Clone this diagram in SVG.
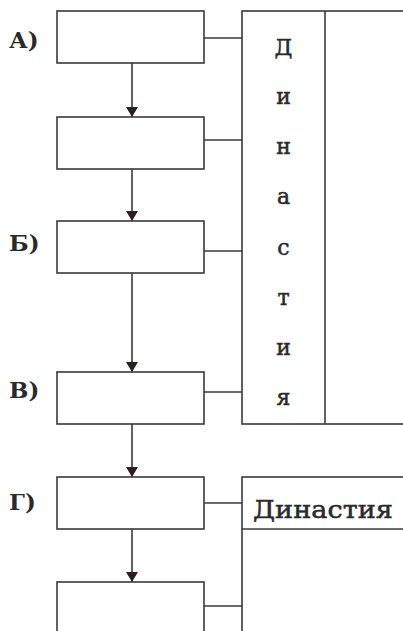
<svg xmlns="http://www.w3.org/2000/svg" width="403" height="631" viewBox="0 0 403 631">
<defs>
<style>
.box{fill:#fff;stroke:#3a3a3a;stroke-width:1.6}
.ln{fill:none;stroke:#3a3a3a;stroke-width:1.6}
.lbl{font-family:"DejaVu Serif","Liberation Serif",serif;font-weight:bold;font-size:23px;fill:#2a2a2a}
.let{font-family:"DejaVu Serif","Liberation Serif",serif;font-size:22px;fill:#2a2a2a;stroke:#2a2a2a;stroke-width:0.5;text-anchor:middle}
.dyn{font-family:"DejaVu Serif","Liberation Serif",serif;font-size:24px;fill:#2a2a2a;stroke:#2a2a2a;stroke-width:0.5}
</style>
<marker id="ah" viewBox="0 0 10 12" refX="10" refY="6" markerWidth="10" markerHeight="12" markerUnits="userSpaceOnUse" orient="auto">
<path d="M0,0 L10,6 L0,12 Z" fill="#2a2020"/>
</marker>
</defs>
<rect width="403" height="631" fill="#fff"/>
<g id="connectors">
<line class="ln" x1="132" y1="63" x2="132" y2="117" marker-end="url(#ah)"/>
<line class="ln" x1="132" y1="169" x2="132" y2="221" marker-end="url(#ah)"/>
<line class="ln" x1="132" y1="273" x2="132" y2="372" marker-end="url(#ah)"/>
<line class="ln" x1="132" y1="424" x2="132" y2="477" marker-end="url(#ah)"/>
<line class="ln" x1="132" y1="529" x2="132" y2="582" marker-end="url(#ah)"/>
<line class="ln" x1="204" y1="38" x2="242" y2="38"/>
<line class="ln" x1="204" y1="140" x2="242" y2="140"/>
<line class="ln" x1="204" y1="251" x2="242" y2="251"/>
<line class="ln" x1="204" y1="392" x2="242" y2="392"/>
<line class="ln" x1="204" y1="503" x2="242" y2="503"/>
<line class="ln" x1="204" y1="606" x2="242" y2="606"/>
</g>
<g id="nodeA"><rect class="box" x="57" y="11" width="147" height="52"/><text class="lbl" x="9" y="48">А)</text></g>
<g id="node2"><rect class="box" x="57" y="117" width="147" height="52"/></g>
<g id="nodeB"><rect class="box" x="57" y="221" width="147" height="52"/><text class="lbl" x="9" y="251">Б)</text></g>
<g id="nodeV"><rect class="box" x="57" y="372" width="147" height="52"/><text class="lbl" x="9" y="398">В)</text></g>
<g id="nodeG"><rect class="box" x="57" y="477" width="147" height="52"/><text class="lbl" x="9" y="510">Г)</text></g>
<g id="node6"><rect class="box" x="57" y="582" width="147" height="60"/></g>
<g id="dynasty1">
<rect class="box" x="242" y="11" width="170" height="413"/>
<line class="ln" x1="325" y1="11" x2="325" y2="424"/>
<text class="let" x="283.5" y="55">Д</text>
<text class="let" x="283.5" y="104">и</text>
<text class="let" x="283.5" y="154">н</text>
<text class="let" x="283.5" y="204">а</text>
<text class="let" x="283.5" y="255">с</text>
<text class="let" x="283.5" y="305">т</text>
<text class="let" x="283.5" y="355">и</text>
<text class="let" x="283.5" y="405">я</text>
</g>
<g id="dynasty2">
<rect class="box" x="242" y="477" width="170" height="170"/>
<line class="ln" x1="242" y1="529" x2="412" y2="529"/>
<text class="dyn" x="253" y="518" textLength="140" lengthAdjust="spacingAndGlyphs">Династия</text>
</g>
</svg>
